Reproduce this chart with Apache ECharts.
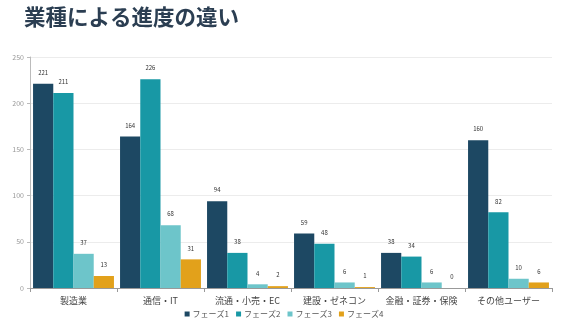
<!DOCTYPE html>
<html><head><meta charset="utf-8">
<script src="https://cdn.jsdelivr.net/npm/echarts@6/dist/echarts.min.js"></script>
<style>html,body{margin:0;padding:0;background:#fff}#c{width:568px;height:328px}</style>
</head><body><div id="c"></div>
<script>
const categories = ['製造業','通信・IT','流通・小売・EC','建設・ゼネコン','金融・証券・保険','その他ユーザー'];
const seriesNames = ['フェーズ1','フェーズ2','フェーズ3','フェーズ4'];
const phase1 = [221,164,94,59,38,160];
const phase2 = [211,226,38,48,34,82];
const phase3 = [37,68,4,6,6,10];
const phase4 = [13,31,2,1,0,6];
const yTicks = [0,50,100,150,200,250];
const colors = ['#1d4863','#1898a5','#6dc5ca','#e2a11b'];
const chart = echarts.init(document.getElementById('c'), null, {renderer:'canvas'});
const font = '"Noto Sans CJK JP","Noto Sans",sans-serif';
const data = [phase1,phase2,phase3,phase4];
chart.setOption({
  animation:false,
  title:{text:'業種による進度の違い',left:19,top:1,textStyle:{fontFamily:font,fontSize:21.5,fontWeight:'bold',color:'#2b3e52'}},
  legend:{bottom:5,left:'center',itemWidth:5,itemHeight:5,itemGap:7,icon:'rect',
    textStyle:{fontFamily:font,fontSize:8,color:'#555',padding:[0,0,0,-2]},data:seriesNames},
  grid:{left:30,right:16,top:57,bottom:40,containLabel:false},
  xAxis:{type:'category',data:categories,
    axisLine:{lineStyle:{color:'#999'}},axisTick:{show:true,length:4,lineStyle:{color:'#999'}},
    axisLabel:{fontFamily:font,fontSize:9,color:'#444',margin:8,interval:0}},
  yAxis:{type:'value',min:yTicks[0],max:yTicks[yTicks.length-1],interval:50,
    axisLine:{show:true,lineStyle:{color:'#bbb'}},axisTick:{show:true,length:3,lineStyle:{color:'#bbb'}},
    axisLabel:{fontFamily:font,fontSize:7,color:'#999',margin:6},
    splitLine:{lineStyle:{color:'#ececec'}}},
  series: seriesNames.map((n,i)=>({
    name:n,type:'bar',data:data[i],barGap:'0%',barCategoryGap:'7%',
    itemStyle:{color:colors[i]},
    label:{show:true,position:'top',distance:8,fontFamily:font,fontSize:6,color:'#333'}
  }))
});
</script></body></html>
